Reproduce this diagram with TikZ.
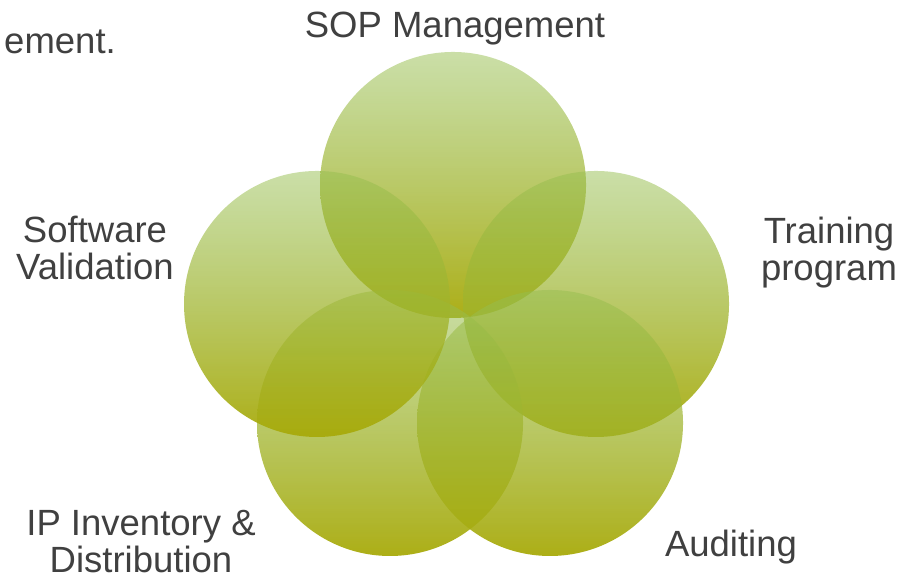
\documentclass[tikz,border=0pt]{standalone}
\usepackage{fontspec}
\setmainfont{Liberation Sans}
\usetikzlibrary{fadings}
\definecolor{petaltop}{RGB}{150,190,80}
\definecolor{petalbottom}{RGB}{168,170,10}
\definecolor{labelgray}{RGB}{64,64,64}
\tikzfading[name=petalfade, top color=transparent!50, bottom color=transparent!5]
\begin{document}
\begin{tikzpicture}[
			x=1pt, y=-1pt,
			petal/.style={circle, minimum size=266pt, inner sep=0pt,
					top color=petaltop, bottom color=petalbottom, path fading=petalfade},
			tag/.style={anchor=base, align=center, inner sep=0pt, text=labelgray,
					font=\fontsize{36.5}{37}\selectfont}
		]
		\useasboundingbox (0,0) rectangle (916,579);

		\node[petal] (sop) at (453,185) {};
		\node[petal] (training) at (596,304) {};
		\node[petal] (auditing) at (550,423) {};
		\node[petal] (inventory) at (390,423) {};
		\node[petal] (software) at (317,304) {};

		\node[tag] (soplabel) at (455,37) {SOP Management};
		\node[tag] (traininglabel) at (829,280) {Training\\program};
		\node[tag] (auditinglabel) at (731,556) {Auditing};
		\node[tag] (inventorylabel) at (141,572) {IP Inventory \&\\Distribution};
		\node[tag] (softwarelabel) at (95,279) {Software\\Validation};
		\node[tag, anchor=base east] (cutlabel) at (116,53) {ement.};
	\end{tikzpicture}
\end{document}
